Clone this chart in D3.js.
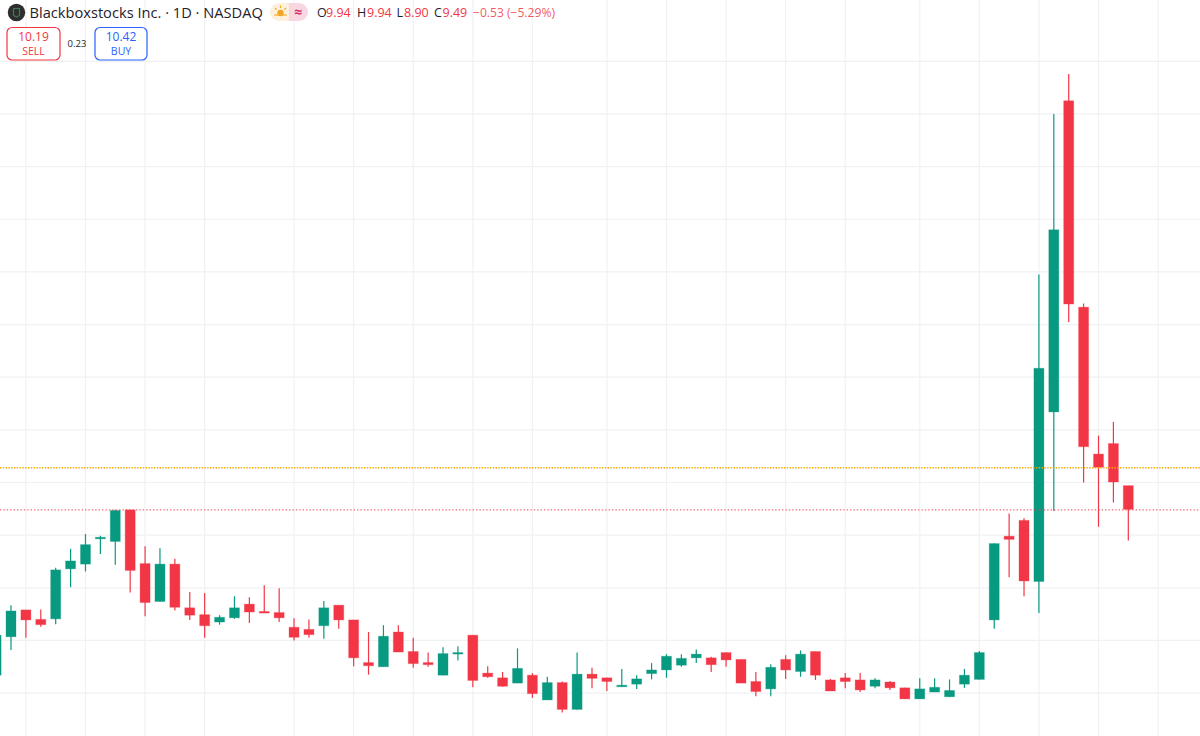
<!DOCTYPE html>
<html>
<head>
<meta charset="utf-8">
<script src="https://cdn.jsdelivr.net/npm/d3@7"></script>
<style>
  html, body { margin: 0; padding: 0; background: #fff; overflow: hidden; }
  text { font-family: "Open Sans", "Noto Sans", sans-serif; }
</style>
</head>
<body>
<div id="chart"></div>
<script>
// daily candles
const opens = [6.34,7.07,7.58,7.40,7.41,8.36,8.45,8.93,8.88,9.48,8.46,7.74,8.45,7.62,7.49,7.35,7.43,7.69,7.55,7.53,
  7.25,7.21,7.28,7.67,7.39,6.58,6.50,7.16,6.79,6.58,6.34,6.75,7.10,6.38,6.29,6.19,6.34,5.87,6.20,5.69,
  6.36,6.29,6.12,6.17,6.37,6.44,6.53,6.67,6.67,6.77,6.64,6.22,6.08,6.64,6.41,6.79,6.25,6.29,6.25,6.13,
  6.21,6.10,5.89,6.02,5.93,6.17,6.26,7.39,8.98,9.28,8.12,11.34,17.25,13.33,10.54,10.74,9.94];
const highs = [7.10,7.67,7.58,7.59,8.38,8.74,9.02,8.99,9.48,9.48,8.79,8.75,8.55,7.92,7.90,7.48,7.84,7.82,8.05,7.99,
  7.42,7.40,7.75,7.67,7.39,7.16,7.29,7.29,7.05,6.77,6.87,6.89,7.10,6.51,6.40,6.85,6.38,6.31,6.22,6.77,
  6.48,6.29,6.46,6.34,6.57,6.74,6.74,6.83,6.69,6.77,6.64,6.40,6.55,6.72,6.81,6.79,6.27,6.38,6.38,6.28,
  6.23,6.10,6.28,6.28,6.26,6.46,6.80,8.84,9.41,9.32,13.95,17.00,17.76,13.40,10.89,11.15,9.94];
const lows = [6.31,6.82,7.05,7.26,7.31,8.01,8.31,8.64,8.44,7.91,7.46,7.74,7.57,7.39,7.05,7.30,7.41,7.33,7.52,7.35,
  7.00,7.05,7.03,7.22,6.51,6.35,6.50,6.78,6.48,6.50,6.34,6.62,6.11,6.29,6.12,6.19,5.91,5.87,5.63,5.69,
  6.09,6.04,6.12,6.08,6.26,6.29,6.50,6.57,6.40,6.50,6.19,5.94,5.94,6.27,6.31,6.25,6.04,6.09,6.02,6.09,
  6.06,5.89,5.89,6.02,5.93,6.10,6.26,7.22,8.20,7.84,7.52,9.46,13.05,10.00,9.16,9.62,8.90];
const closes = [7.10,7.56,7.39,7.30,8.34,8.51,8.82,8.96,9.47,8.33,7.72,8.45,7.63,7.48,7.28,7.44,7.62,7.54,7.52,7.43,
  7.06,7.11,7.62,7.39,6.67,6.52,7.08,6.78,6.56,6.54,6.75,6.77,6.24,6.31,6.13,6.47,5.99,6.20,5.69,6.36,
  6.28,6.22,6.15,6.27,6.44,6.70,6.66,6.74,6.54,6.63,6.19,6.03,6.49,6.44,6.74,6.34,6.04,6.22,6.06,6.25,
  6.10,5.89,6.08,6.11,6.05,6.34,6.77,8.84,8.92,8.13,12.17,14.80,13.39,10.68,10.29,10.01,9.49];

const priceTicks = [6,7,8,9,10,11,12,13,14,15,16,17,18];
const timeTicks = [2,6,10,14,20,24,28,32,36,41,45,49,53,57,62,66,70,74,78];
const lastLine = 9.48;
const midLine = 10.28;

const title = "Blackboxstocks Inc. · 1D · NASDAQ";
const ohlc = [["O","9.94",317,326],["H","9.94",357,367],["L","8.90",396.5,404],["C","9.49",434,442.5]];
const change = "−0.53 (−5.29%)";

const width = 1200, height = 736;
const red = "#f23645", green = "#089981", blue = "#2962ff", grid = "#f0f1f3";

const svg = d3.select("#chart").append("svg")
  .attr("width", width)
  .attr("height", height)
  .style("display", "block");

const x = d3.scaleLinear().domain([0, 76]).range([-3.9, 1128.3]);
const y = d3.scaleLinear().domain([6, 18]).range([693.1, 61.3]);
const bodyWidth = 10;

// grid
svg.append("g").selectAll("line").data(priceTicks).join("line")
  .attr("x1", 0).attr("x2", width)
  .attr("y1", d => y(d)).attr("y2", d => y(d))
  .attr("stroke", grid).attr("stroke-width", 1.2);
svg.append("g").selectAll("line").data(timeTicks).join("line")
  .attr("y1", 0).attr("y2", height)
  .attr("x1", d => x(d)).attr("x2", d => x(d))
  .attr("stroke", grid).attr("stroke-width", 1.2);

// candles
const candles = svg.append("g").selectAll("g").data(d3.range(opens.length)).join("g")
  .attr("class", "candle");
const colour = i => closes[i] >= opens[i] ? green : red;

candles.append("line")
  .attr("x1", i => x(i)).attr("x2", i => x(i))
  .attr("y1", i => y(highs[i])).attr("y2", i => y(lows[i]))
  .attr("stroke", colour).attr("stroke-width", 1.2);

candles.append("rect")
  .attr("x", i => x(i) - bodyWidth / 2)
  .attr("width", bodyWidth)
  .attr("y", i => y(Math.max(opens[i], closes[i])))
  .attr("height", i => Math.max(1.5, Math.abs(y(opens[i]) - y(closes[i]))))
  .attr("fill", colour)
  .attr("stroke", colour).attr("stroke-opacity", 0.3).attr("stroke-width", 1);

// price lines
svg.append("line")
  .attr("x1", 0).attr("x2", width).attr("y1", y(midLine)).attr("y2", y(midLine))
  .attr("stroke", "#f7a600").attr("stroke-width", 1.4).attr("stroke-dasharray", "1.4 1.4");
svg.append("line")
  .attr("x1", 0).attr("x2", width).attr("y1", y(lastLine)).attr("y2", y(lastLine))
  .attr("stroke", red).attr("stroke-opacity", 0.75).attr("stroke-width", 1.4).attr("stroke-dasharray", "1.4 2");

// header
const head = svg.append("g");

head.append("circle").attr("cx", 16.5).attr("cy", 12.5).attr("r", 8.7).attr("fill", "#2e2e2e");
head.append("path").attr("d", "M13.5 8.5h6v7l-3 1.5-3-1.5z").attr("fill", "none").attr("stroke", "#3f7a52").attr("stroke-width", 1.2);

head.append("text").attr("x", 29.5).attr("y", 17.5)
  .attr("font-size", 14.65).attr("fill", "#1f222b").text(title);

// weather pill
head.append("path").attr("d", "M279 3h10v18h-10a9 9 0 0 1 0-18z").attr("fill", "#fdf0dd");
head.append("path").attr("d", "M289 3h10a9 9 0 0 1 0 18h-10z").attr("fill", "#f8d7e3");
head.append("circle").attr("cx", 280.5).attr("cy", 13).attr("r", 3.2).attr("fill", "#f5a623");
head.append("path").attr("d", "M274 15h13M280.5 5.5v2.5M275 8l1.6 1.6M286 8l-1.6 1.6")
  .attr("stroke", "#f5a623").attr("stroke-width", 1.2).attr("fill", "none");
head.append("text").attr("x", 298).attr("y", 17).attr("text-anchor", "middle")
  .attr("font-size", 14).attr("font-weight", 700).attr("fill", "#d6336c").text("≈");

ohlc.forEach(([label, value, lx, vx]) => {
  head.append("text").attr("x", lx).attr("y", 17.2).attr("font-size", 12.5).attr("fill", "#1f222b").text(label);
  head.append("text").attr("x", vx).attr("y", 17.2).attr("font-size", 12.5).attr("fill", red).text(value);
});
head.append("text").attr("x", 473).attr("y", 17.2).attr("font-size", 12.1).attr("fill", red).attr("fill-opacity", 0.85).text(change);

// sell / buy boxes
const boxes = [
  { left: 7, w: 53, price: "10.19", side: "SELL", color: red },
  { left: 95, w: 52, price: "10.42", side: "BUY", color: blue }
];
boxes.forEach(b => {
  head.append("rect").attr("x", b.left).attr("y", 27.5).attr("width", b.w).attr("height", 32.5)
    .attr("rx", 5).attr("fill", "#fff").attr("stroke", b.color).attr("stroke-width", 1.2);
  head.append("text").attr("x", b.left + b.w / 2).attr("y", 41).attr("text-anchor", "middle")
    .attr("font-size", 12).attr("fill", b.color).text(b.price);
  head.append("text").attr("x", b.left + b.w / 2).attr("y", 55).attr("text-anchor", "middle")
    .attr("font-size", 10.5).attr("fill", b.color).text(b.side);
});
head.append("text").attr("x", 77).attr("y", 47).attr("text-anchor", "middle")
  .attr("font-size", 9.5).attr("fill", "#1f222b").text("0.23");
</script>
</body>
</html>
